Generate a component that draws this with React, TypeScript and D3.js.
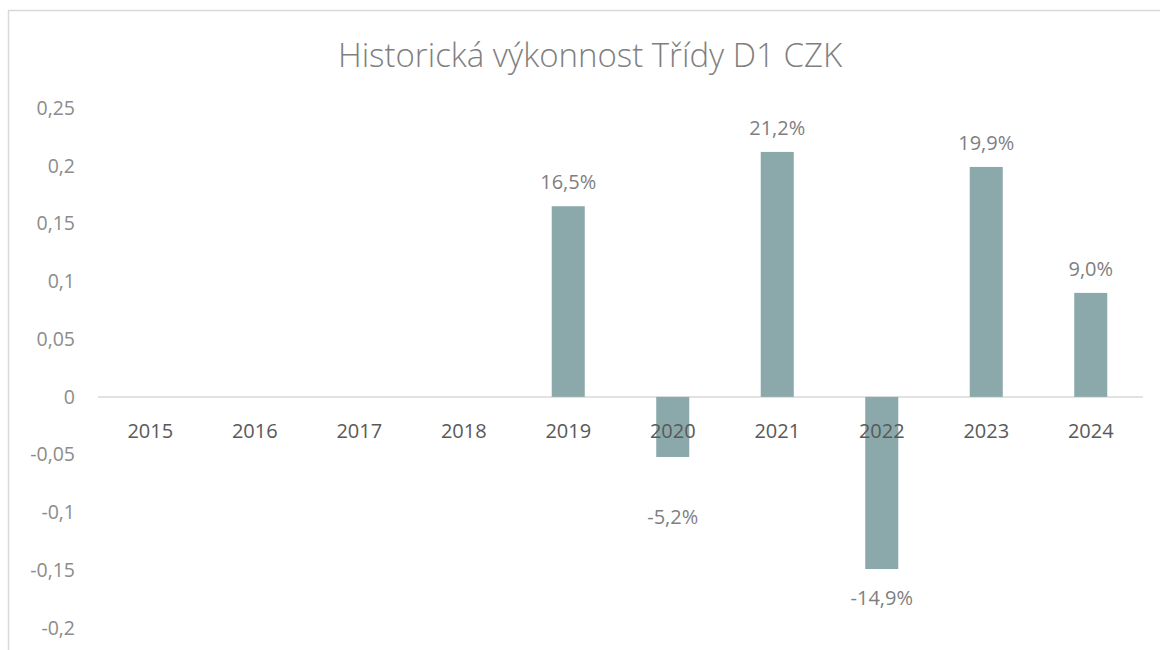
import React from "react";
import * as d3 from "d3";

const years = ["2015", "2016", "2017", "2018", "2019", "2020", "2021", "2022", "2023", "2024"];
const returns: (number | null)[] = [null, null, null, null, 0.165, -0.052, 0.212, -0.149, 0.199, 0.09];
const yTicks = [0.25, 0.2, 0.15, 0.1, 0.05, 0, -0.05, -0.1, -0.15, -0.2];
const title = "Historická výkonnost Třídy D1 CZK";

const W = 1160;
const H = 650;
const FONT = "'Open Sans', 'Noto Sans', sans-serif";

export default function App() {
  const x = d3.scaleBand<string>().domain(years).range([98, 1143]).paddingInner(0.684).paddingOuter(0.342);
  const y = d3.scaleLinear().domain([-0.2, 0.25]).range([628, 108]);
  const fmtTick = (v: number) => String(v).replace(".", ",");
  const fmtPct = (v: number) => (v * 100).toFixed(1).replace(".", ",") + "%";

  return (
    <svg width={W} height={H} style={{ position: "absolute", left: 0, top: 0 }} fontFamily={FONT}>
      <rect x={0} y={0} width={W} height={H} fill="#fff" />
      <rect x={8.5} y={10.5} width={W + 20} height={H + 20} fill="#fff" stroke="#d9d9d9" strokeWidth={1.5} />
      <text x={590} y={67} textAnchor="middle" fontSize={33} fontWeight={300} fill="#7f7f7f">
        {title}
      </text>
      {yTicks.map((t) => (
        <text key={t} x={75} y={y(t)} dy="0.35em" textAnchor="end" fontSize={19.5} fill="#8c8c8c">
          {fmtTick(t)}
        </text>
      ))}
      <line x1={98} x2={1143} y1={y(0)} y2={y(0)} stroke="#d9d9d9" strokeWidth={1.5} />
      {years.map((yr, i) => {
        const v = returns[i];
        if (v === null) return null;
        const top = y(Math.max(0, v));
        const bot = y(Math.min(0, v));
        return (
          <rect key={"b" + yr} x={x(yr)!} y={top} width={x.bandwidth()} height={bot - top} fill="#8ba9ab" />
        );
      })}
      {years.map((yr) => (
        <text key={"c" + yr} x={x(yr)! + x.bandwidth() / 2} y={438} textAnchor="middle" fontSize={20} fontWeight={400} fill="#595959">
          {yr}
        </text>
      ))}
      {years.map((yr, i) => {
        const v = returns[i];
        if (v === null) return null;
        const cx = x(yr)! + x.bandwidth() / 2;
        const ly = v >= 0 ? y(v) - 17 : Math.max(y(v) + 36, y(0) + 127);
        return (
          <text key={"l" + yr} x={cx} y={ly} textAnchor="middle" fontSize={20} fill="#7f7f7f">
            {fmtPct(v)}
          </text>
        );
      })}
    </svg>
  );
}
